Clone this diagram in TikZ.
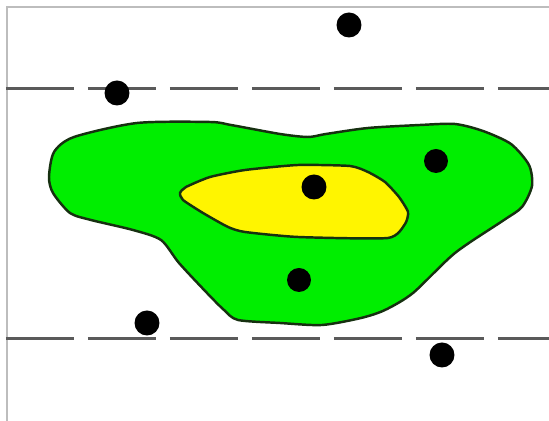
\documentclass[tikz,border=0pt]{standalone}
\usepackage{tikz}
\usetikzlibrary{calc}
\definecolor{frame}{HTML}{BDBDBD}
\definecolor{cutgray}{HTML}{5A5A5A}
\definecolor{outer}{HTML}{00EE00}
\definecolor{inner}{HTML}{FFF500}
\definecolor{rim}{HTML}{163010}

\begin{document}
\begin{tikzpicture}[
    x=0.02cm, y=-0.02cm,
    sample/.style={circle, fill=black, inner sep=0pt, minimum size=#1},
    sample/.default=0.5cm,
    cutline/.style={line width=1.7pt, color=cutgray, dash pattern=on 1.36cm off 0.28cm},
    region/.style={draw=rim, line width=1.4pt, fill=#1, line join=round}
]
\useasboundingbox (0,0) rectangle (549,421);

% frame
\coordinate (f0) at (7,421);
\coordinate (f1) at (7,7);
\coordinate (f2) at (549,7);
\draw[frame, line width=1.2pt] (f0) -- (f1) -- (f2);

% outer region
\draw[region=outer] plot[smooth cycle, tension=0.45] coordinates {
    (49,177) (54,152) (74,137) (137,123) (210,122) (231,125) (280,134)
    (308,137) (326,134) (368,128) (420,125) (455,124) (483,131) (511,144)
    (529,165) (532,186) (522,207) (504,220) (455,253) (413,293) (385,310)
    (361,318) (322,325) (280,323) (238,320) (224,310) (207,293) (179,263)
    (161,240) (133,230) (91,220) (70,213) (53,193)};

% inner region
\draw[region=inner] plot[smooth cycle, tension=0.35] coordinates {
    (180,193) (186,187) (210,177) (245,170) (298,165) (350,166) (368,172)
    (385,182) (399,197) (408,212) (405,224) (388,238) (298,237) (245,232)
    (228,227) (203,213) (183,200)};

% cut lines
\coordinate (a0) at (6,89);
\coordinate (a1) at (549,89);
\coordinate (b0) at (6,339);
\coordinate (b1) at (549,339);
\draw[cutline] (a0) -- (a1);
\draw[cutline] (b0) -- (b1);

% samples
\node[sample] (p1) at (349,25) {};
\node[sample] (p2) at (117,93) {};
\node[sample=0.48cm] (p3) at (436,161) {};
\node[sample] (p4) at (314,187) {};
\node[sample=0.48cm] (p5) at (299,280) {};
\node[sample] (p6) at (147,323) {};
\node[sample] (p7) at (442,355) {};
\end{tikzpicture}
\end{document}
